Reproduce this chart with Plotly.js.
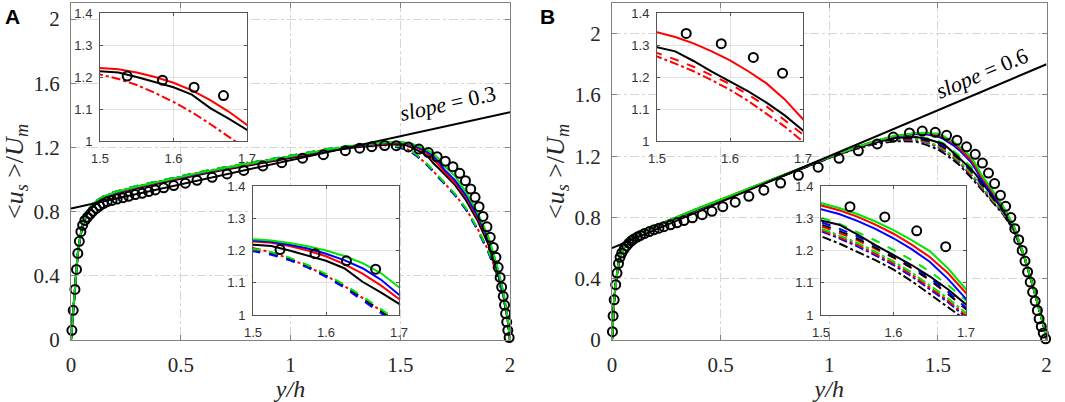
<!DOCTYPE html>
<html><head><meta charset="utf-8">
<script src="https://cdn.plot.ly/plotly-3.0.1.min.js"></script>
<style>html,body{margin:0;padding:0;background:#fff}#chart{width:1065px;height:402px}</style>
</head><body><div id="chart"></div>
<script>
// ---------- data ----------
const X = [0,0.005,0.01,0.02,0.03,0.04,0.05,0.07,0.1,0.15,0.2,0.3,0.4,0.5,0.6,0.7,0.8,0.9,1.0,1.1,1.2,1.3,1.4,1.45,1.5,1.525,1.55,1.575,1.6,1.625,1.65,1.675,1.7,1.75,1.8,1.85,1.9,1.94,1.97,1.99,2.0];

// Panel A model curves
const A_green_solid = [0,0.08,0.19,0.35,0.53,0.63,0.70,0.79,0.85, 0.895,0.92,0.957,0.987,1.017,1.046,1.072,1.097,1.122,1.147, 1.172,1.194,1.213, 1.229,1.234, 1.235,1.231,1.223,1.213,1.2,1.183,1.161,1.13,1.086, 1.02,0.92,0.80,0.65,0.47,0.30,0.13,0];
const A_blue_solid  = [0,0.08,0.19,0.35,0.53,0.63,0.70,0.79,0.849, 0.893,0.918,0.955,0.985,1.015,1.044,1.07,1.095,1.12,1.145, 1.17,1.192,1.211, 1.226,1.23, 1.231,1.227,1.218,1.206,1.19,1.17,1.145,1.11,1.063, 0.995,0.90,0.78,0.635,0.46,0.29,0.13,0];
const A_red_solid   = [0,0.08,0.19,0.35,0.53,0.63,0.70,0.788,0.846, 0.89,0.915,0.952,0.982,1.012,1.041,1.067,1.092,1.117,1.142, 1.167,1.189,1.207, 1.222,1.226, 1.228,1.224,1.214,1.2,1.182,1.158,1.128,1.092,1.05, 0.98,0.89,0.77,0.625,0.455,0.29,0.13,0];
const A_black_solid = [0,0.08,0.19,0.35,0.52,0.62,0.69,0.775,0.838, 0.884,0.909,0.946,0.976,1.006,1.035,1.061,1.086,1.111,1.136, 1.161,1.183,1.201, 1.214,1.218, 1.218,1.214,1.2,1.184,1.168,1.145,1.103,1.07,1.035, 0.965,0.87,0.75,0.60,0.44,0.28,0.12,0];
const A_green_dash  = [0,0.08,0.19,0.35,0.53,0.63,0.70,0.792,0.853, 0.898,0.924,0.961,0.992,1.022,1.051,1.077,1.102,1.127,1.152, 1.177,1.198,1.214, 1.222,1.215, 1.205,1.195,1.178,1.155,1.127,1.094,1.058,1.02,0.98, 0.91,0.82,0.70,0.56,0.42,0.27,0.12,0];
const A_blue_dash   = [0,0.08,0.19,0.35,0.53,0.63,0.70,0.791,0.852, 0.897,0.923,0.96,0.991,1.021,1.05,1.076,1.101,1.126,1.151, 1.176,1.197,1.213, 1.22,1.21, 1.198,1.187,1.17,1.147,1.118,1.085,1.048,1.01,0.97, 0.9,0.81,0.69,0.55,0.41,0.27,0.12,0];
const A_black_dash  = [0,0.08,0.19,0.35,0.53,0.63,0.70,0.79,0.851, 0.896,0.922,0.959,0.99,1.02,1.049,1.075,1.1,1.125,1.15, 1.175,1.196,1.212, 1.221,1.212, 1.2,1.19,1.173,1.15,1.122,1.089,1.052,1.014,0.974, 0.905,0.815,0.695,0.555,0.415,0.27,0.12,0];
const A_red_dashdot = [0,0.08,0.19,0.35,0.53,0.63,0.70,0.79,0.85, 0.895,0.921,0.958,0.989,1.019,1.048,1.074,1.099,1.124,1.149, 1.174,1.195,1.212, 1.224,1.218, 1.208,1.194,1.175,1.15,1.122,1.09,1.053,1.015,0.975, 0.905,0.815,0.70,0.56,0.42,0.27,0.12,0];

// Panel A reference (circles)
const A_circ_x = [0.004,0.010,0.018,0.025,0.031,0.038,0.045,0.053,0.063,0.075,0.088,0.100,0.115,0.130,0.147,0.165,0.187,0.210,0.237,0.263,0.293,0.324,0.354,0.384,0.422,0.468,0.521,0.574,0.643,0.711,0.787,0.874,0.960,1.055,1.150,1.250,1.315,1.370,1.429,1.482,1.537,1.585,1.628,1.668,1.705,1.740,1.771,1.797,1.821,1.841,1.859,1.877,1.895,1.910,1.924,1.936,1.946,1.955,1.962,1.969,1.975,1.980,1.985,1.990,1.996];
const A_circ_y = [0.06,0.185,0.315,0.44,0.54,0.615,0.675,0.715,0.745,0.765,0.785,0.803,0.820,0.836,0.850,0.862,0.870,0.878,0.887,0.895,0.906,0.914,0.925,0.935,0.948,0.962,0.977,0.995,1.014,1.035,1.057,1.085,1.105,1.133,1.155,1.180,1.195,1.205,1.212,1.211,1.203,1.190,1.168,1.142,1.114,1.080,1.039,0.993,0.941,0.889,0.831,0.770,0.705,0.640,0.577,0.515,0.453,0.390,0.330,0.272,0.218,0.165,0.112,0.060,0.015];

// Panel B model curves
const B_green_solid = [0,0.17,0.265,0.40,0.50,0.555,0.59,0.635,0.68, 0.717,0.747,0.807,0.862,0.917,0.973,1.03,1.087,1.142,1.195, 1.247,1.295,1.333, 1.352,1.353, 1.347,1.332,1.313,1.29,1.263,1.232,1.198,1.145,1.08, 0.98,0.875,0.745,0.535,0.34,0.19,0.075,0];
const B_red_solid   = [0,0.17,0.265,0.40,0.50,0.555,0.59,0.634,0.679, 0.716,0.746,0.806,0.861,0.916,0.972,1.029,1.086,1.141,1.194, 1.246,1.294,1.331, 1.35,1.35, 1.34,1.325,1.305,1.28,1.252,1.218,1.18,1.13,1.068, 0.97,0.868,0.742,0.535,0.34,0.19,0.075,0];
const B_blue_solid  = [0,0.17,0.265,0.40,0.50,0.555,0.59,0.634,0.679, 0.715,0.745,0.805,0.86,0.915,0.971,1.028,1.085,1.14,1.193, 1.245,1.292,1.328, 1.345,1.342, 1.328,1.313,1.292,1.267,1.238,1.204,1.165,1.112,1.05, 0.957,0.858,0.738,0.535,0.34,0.19,0.075,0];
const B_black_solid = [0,0.17,0.265,0.40,0.50,0.553,0.588,0.632,0.676, 0.712,0.742,0.802,0.857,0.912,0.968,1.025,1.082,1.137,1.19, 1.24,1.285,1.318, 1.325,1.312, 1.293,1.28,1.25,1.217,1.186,1.155,1.12,1.08,1.033, 0.945,0.85,0.735,0.535,0.34,0.19,0.075,0];
const B_green_dash  = [0,0.17,0.265,0.40,0.50,0.555,0.59,0.634,0.678, 0.715,0.745,0.805,0.86,0.915,0.971,1.028,1.085,1.14,1.193, 1.244,1.29,1.323, 1.33,1.318, 1.302,1.283,1.258,1.231,1.202,1.17,1.135,1.093,1.045, 0.955,0.855,0.735,0.535,0.34,0.19,0.075,0];
const B_blue_dash   = [0,0.17,0.265,0.40,0.50,0.555,0.59,0.633,0.677, 0.714,0.744,0.804,0.859,0.914,0.97,1.027,1.084,1.139,1.192, 1.243,1.288,1.318, 1.322,1.307, 1.288,1.268,1.244,1.216,1.186,1.152,1.115,1.072,1.023, 0.94,0.845,0.73,0.535,0.34,0.19,0.075,0];
const B_black_dash  = [0,0.17,0.265,0.40,0.50,0.554,0.589,0.632,0.676, 0.713,0.743,0.803,0.858,0.913,0.969,1.026,1.083,1.138,1.191, 1.242,1.286,1.315, 1.318,1.302, 1.281,1.261,1.237,1.209,1.179,1.146,1.109,1.066,1.018, 0.935,0.842,0.728,0.533,0.34,0.19,0.075,0];
const B_red_dash    = [0,0.17,0.265,0.40,0.50,0.555,0.59,0.633,0.677, 0.714,0.744,0.804,0.859,0.914,0.97,1.027,1.084,1.139,1.192, 1.242,1.286,1.313, 1.315,1.298, 1.275,1.255,1.232,1.205,1.178,1.145,1.108,1.065,1.02, 0.935,0.84,0.728,0.533,0.34,0.19,0.075,0];
const B_red_dashdot   = [0,0.17,0.265,0.40,0.50,0.555,0.59,0.633,0.677, 0.714,0.744,0.804,0.859,0.914,0.97,1.027,1.084,1.139,1.191, 1.24,1.283,1.308, 1.31,1.29, 1.264,1.242,1.218,1.19,1.16,1.125,1.085,1.045,0.998, 0.915,0.83,0.722,0.53,0.34,0.19,0.075,0];
const B_blue_dashdot  = [0,0.17,0.265,0.40,0.50,0.555,0.59,0.633,0.677, 0.714,0.744,0.804,0.859,0.914,0.97,1.027,1.084,1.139,1.191, 1.24,1.282,1.306, 1.307,1.287, 1.26,1.238,1.213,1.185,1.155,1.12,1.08,1.04,0.993, 0.912,0.828,0.72,0.53,0.34,0.19,0.075,0];
const B_green_dashdot = [0,0.17,0.265,0.40,0.50,0.555,0.59,0.634,0.678, 0.715,0.745,0.805,0.86,0.915,0.971,1.028,1.085,1.14,1.192, 1.241,1.284,1.309, 1.312,1.293, 1.268,1.247,1.224,1.196,1.166,1.132,1.093,1.052,1.006, 0.92,0.832,0.724,0.532,0.34,0.19,0.075,0];
const B_black_dashdot = [0,0.17,0.265,0.40,0.50,0.553,0.588,0.631,0.675, 0.711,0.741,0.801,0.856,0.911,0.967,1.024,1.081,1.136,1.188, 1.237,1.277,1.298, 1.295,1.272, 1.244,1.222,1.197,1.17,1.141,1.105,1.065,1.025,0.985, 0.905,0.822,0.716,0.528,0.34,0.19,0.075,0];

// Panel B reference (circles)
const B_circ_x = [0.002,0.005,0.010,0.017,0.023,0.030,0.037,0.045,0.056,0.067,0.078,0.090,0.101,0.116,0.131,0.149,0.172,0.194,0.216,0.239,0.269,0.299,0.331,0.370,0.415,0.460,0.510,0.567,0.630,0.699,0.776,0.858,0.949,1.045,1.134,1.221,1.295,1.369,1.428,1.488,1.540,1.588,1.632,1.672,1.705,1.733,1.761,1.788,1.812,1.836,1.854,1.872,1.888,1.901,1.913,1.925,1.936,1.948,1.958,1.966,1.976,1.985,1.996];
const B_circ_y = [0.054,0.157,0.262,0.361,0.437,0.499,0.540,0.568,0.594,0.614,0.632,0.648,0.660,0.672,0.683,0.695,0.708,0.720,0.730,0.740,0.752,0.765,0.780,0.798,0.818,0.840,0.870,0.900,0.938,0.978,1.025,1.075,1.128,1.186,1.235,1.280,1.325,1.352,1.364,1.356,1.336,1.304,1.261,1.212,1.155,1.090,1.021,0.945,0.873,0.799,0.727,0.655,0.585,0.515,0.444,0.378,0.313,0.254,0.193,0.138,0.088,0.045,0.008];

// Slope reference lines
const slopeX = [0, 2];
const slopeA_y = [0.82, 1.42];
const slopeB_y = [0.6, 1.8];

// Tick labels
const mainXTicks = [0, 0.5, 1, 1.5, 2];
const mainXText  = ['0', '0.5', '1', '1.5', '2'];
const mainYTicks = [0, 0.4, 0.8, 1.2, 1.6, 2];
const mainYText  = ['0', '0.4', '0.8', '1.2', '1.6', '2'];
const insXTicks = [1.5, 1.6, 1.7];
const insXText  = ['1.5', '1.6', '1.7'];
const insYTicks = [1, 1.1, 1.2, 1.3, 1.4];
const insYText  = ['1', '1.1', '1.2', '1.3', '1.4'];

// ---------- styling ----------
const GREEN = '#00e600', RED = '#ff0000', BLUE = '#0000ff', BLACK = '#000000';

const seriesA = [
  {y: A_red_dashdot, c: RED,   d: 'dashdot', a1: true},
  {y: A_black_dash,  c: BLACK, d: 'dash'},
  {y: A_blue_dash,   c: BLUE,  d: 'dash'},
  {y: A_green_dash,  c: GREEN, d: 'dash'},
  {y: A_black_solid, c: BLACK, d: 'solid', a1: true},
  {y: A_red_solid,   c: RED,   d: 'solid', a1: true},
  {y: A_blue_solid,  c: BLUE,  d: 'solid'},
  {y: A_green_solid, c: GREEN, d: 'solid'}
];
const seriesB = [
  {y: B_black_dashdot, c: BLACK, d: 'dashdot'},
  {y: B_blue_dashdot,  c: BLUE,  d: 'dashdot'},
  {y: B_red_dashdot,   c: RED,   d: 'dashdot', b1: true},
  {y: B_green_dashdot, c: GREEN, d: 'dashdot'},
  {y: B_red_dash,      c: RED,   d: 'dash', b1: true},
  {y: B_black_dash,    c: BLACK, d: 'dash'},
  {y: B_blue_dash,     c: BLUE,  d: 'dash'},
  {y: B_green_dash,    c: GREEN, d: 'dash'},
  {y: B_black_solid,   c: BLACK, d: 'solid', b1: true},
  {y: B_blue_solid,    c: BLUE,  d: 'solid'},
  {y: B_red_solid,     c: RED,   d: 'solid', b1: true},
  {y: B_green_solid,   c: GREEN, d: 'solid'}
];

function lineTrace(y, c, d, xa, ya) {
  return {x: X, y: y, xaxis: xa, yaxis: ya, mode: 'lines', type: 'scatter',
          line: {color: c, width: 2, dash: d}, hoverinfo: 'skip'};
}
function circTrace(x, y, xa, ya, inset) {
  let xs = x, ys = y;
  if (inset) {
    xs = []; ys = [];
    x.forEach((v, i) => { if (v >= 1.5 && v <= 1.7) { xs.push(v); ys.push(y[i]); } });
  }
  return {x: xs, y: ys, xaxis: xa, yaxis: ya, mode: 'markers', type: 'scatter', cliponaxis: !!inset,
          marker: {symbol: 'circle-open', size: 9, color: BLACK, line: {color: BLACK, width: 2}},
          hoverinfo: 'skip'};
}
function slopeTrace(y, xa, ya) {
  return {x: slopeX, y: y, xaxis: xa, yaxis: ya, mode: 'lines', type: 'scatter',
          line: {color: BLACK, width: 2}, hoverinfo: 'skip'};
}

const traces = [];
seriesA.forEach(s => traces.push(lineTrace(s.y, s.c, s.d, 'x', 'y')));
traces.push(slopeTrace(slopeA_y, 'x', 'y'));
traces.push(circTrace(A_circ_x, A_circ_y, 'x', 'y', false));
seriesB.forEach(s => traces.push(lineTrace(s.y, s.c, s.d, 'x2', 'y2')));
traces.push(slopeTrace(slopeB_y, 'x2', 'y2'));
traces.push(circTrace(B_circ_x, B_circ_y, 'x2', 'y2', false));
seriesA.filter(s => s.a1).forEach(s => traces.push(lineTrace(s.y, s.c, s.d, 'x3', 'y3')));
traces.push(circTrace(A_circ_x, A_circ_y, 'x3', 'y3', true));
seriesA.forEach(s => traces.push(lineTrace(s.y, s.c, s.d, 'x4', 'y4')));
traces.push(circTrace(A_circ_x, A_circ_y, 'x4', 'y4', true));
seriesB.filter(s => s.b1).forEach(s => traces.push(lineTrace(s.y, s.c, s.d, 'x5', 'y5')));
traces.push(circTrace(B_circ_x, B_circ_y, 'x5', 'y5', true));
seriesB.forEach(s => traces.push(lineTrace(s.y, s.c, s.d, 'x6', 'y6')));
traces.push(circTrace(B_circ_x, B_circ_y, 'x6', 'y6', true));

const W = 1065, H = 402;
const px = v => v / W, py = v => 1 - v / H;
const SERIF = 'Liberation Serif';
const SANS = 'Liberation Sans';
const TXT = '#262626';

function mainXAxis(l, r, anchor) {
  return {domain: [px(l), px(r)], anchor: anchor, range: [0, 2], tickmode: 'array',
    tickvals: mainXTicks, ticktext: mainXText, ticks: 'inside', ticklen: 5, tickcolor: '#808080',
    showline: true, linecolor: '#808080', linewidth: 1, mirror: 'ticks',
    showgrid: true, gridcolor: '#d6d6d6', griddash: 'dashdot', gridwidth: 1, zeroline: false,
    tickfont: {family: SERIF, size: 21, color: TXT}, ticklabelstandoff: 6,
    title: {text: '<i>y/h</i>', font: {family: SERIF, size: 24, color: TXT}, standoff: 2},
    fixedrange: true};
}
function mainYAxis(range, anchor) {
  return {domain: [py(340), py(3)], anchor: anchor, range: range, tickmode: 'array',
    tickvals: mainYTicks, ticktext: mainYText, ticks: 'inside', ticklen: 5, tickcolor: '#808080',
    showline: true, linecolor: '#808080', linewidth: 1, mirror: 'ticks',
    showgrid: true, gridcolor: '#d6d6d6', griddash: 'dashdot', gridwidth: 1, zeroline: false,
    tickfont: {family: SERIF, size: 21, color: TXT}, ticklabelstandoff: 6,
    title: {text: '&lt;<i>u</i><sub><i>s</i></sub> &gt;/<i>U</i><sub><i>m</i></sub>',
            font: {family: SERIF, size: 26, color: TXT}, standoff: 2},
    fixedrange: true};
}
function insXAxis(l, r, anchor) {
  return {domain: [px(l), px(r)], anchor: anchor, range: [1.5, 1.7], tickmode: 'array',
    tickvals: insXTicks, ticktext: insXText, ticks: 'inside', ticklen: 3, tickcolor: '#555555',
    showline: true, linecolor: '#555555', linewidth: 1, mirror: 'ticks',
    showgrid: true, gridcolor: '#e2e2e2', gridwidth: 1, zeroline: false,
    tickfont: {family: SANS, size: 13, color: '#333333'}, ticklabelstandoff: 5, fixedrange: true};
}
function insYAxis(b, t, anchor) {
  return {domain: [py(b), py(t)], anchor: anchor, range: [1, 1.4], tickmode: 'array',
    tickvals: insYTicks, ticktext: insYText, ticks: 'inside', ticklen: 3, tickcolor: '#555555',
    showline: true, linecolor: '#555555', linewidth: 1, mirror: 'ticks',
    showgrid: true, gridcolor: '#e2e2e2', gridwidth: 1, zeroline: false,
    tickfont: {family: SANS, size: 13, color: '#333333'}, ticklabelstandoff: 4, fixedrange: true};
}

const layout = {
  width: W, height: H, margin: {l: 0, r: 0, t: 0, b: 0},
  font: {family: SERIF, size: 20, color: TXT},
  paper_bgcolor: '#ffffff', plot_bgcolor: '#ffffff', showlegend: false,
  xaxis:  mainXAxis(71, 510, 'y'),
  yaxis:  mainYAxis([0, 2.1], 'x'),
  xaxis2: mainXAxis(612, 1046.5, 'y2'),
  yaxis2: mainYAxis([0, 2.2], 'x2'),
  xaxis3: insXAxis(100, 247, 'y3'),
  yaxis3: insYAxis(141, 13, 'x3'),
  xaxis4: insXAxis(253, 399, 'y4'),
  yaxis4: insYAxis(315, 186, 'x4'),
  xaxis5: insXAxis(657, 803, 'y5'),
  yaxis5: insYAxis(141, 13, 'x5'),
  xaxis6: insXAxis(821, 966, 'y6'),
  yaxis6: insYAxis(315, 186, 'x6'),
  annotations: [
    {text: '<b>A</b>', xref: 'paper', yref: 'paper', x: px(12), y: py(16), xanchor: 'center', yanchor: 'middle',
     showarrow: false, font: {family: SANS, size: 21, color: '#000000'}},
    {text: '<b>B</b>', xref: 'paper', yref: 'paper', x: px(547), y: py(16), xanchor: 'center', yanchor: 'middle',
     showarrow: false, font: {family: SANS, size: 21, color: '#000000'}},
    {text: '<i>slope</i> = 0.3', xref: 'paper', yref: 'paper', x: px(447), y: py(103), xanchor: 'center', yanchor: 'middle',
     showarrow: false, textangle: -12.4, font: {family: SERIF, size: 22, color: '#000000'}},
    {text: '<i>slope</i> = 0.6', xref: 'paper', yref: 'paper', x: px(981), y: py(73), xanchor: 'center', yanchor: 'middle',
     showarrow: false, textangle: -23, font: {family: SERIF, size: 22, color: '#000000'}}
  ]
};

Plotly.newPlot('chart', traces, layout, {staticPlot: true, displayModeBar: false});
</script>
</body></html>
